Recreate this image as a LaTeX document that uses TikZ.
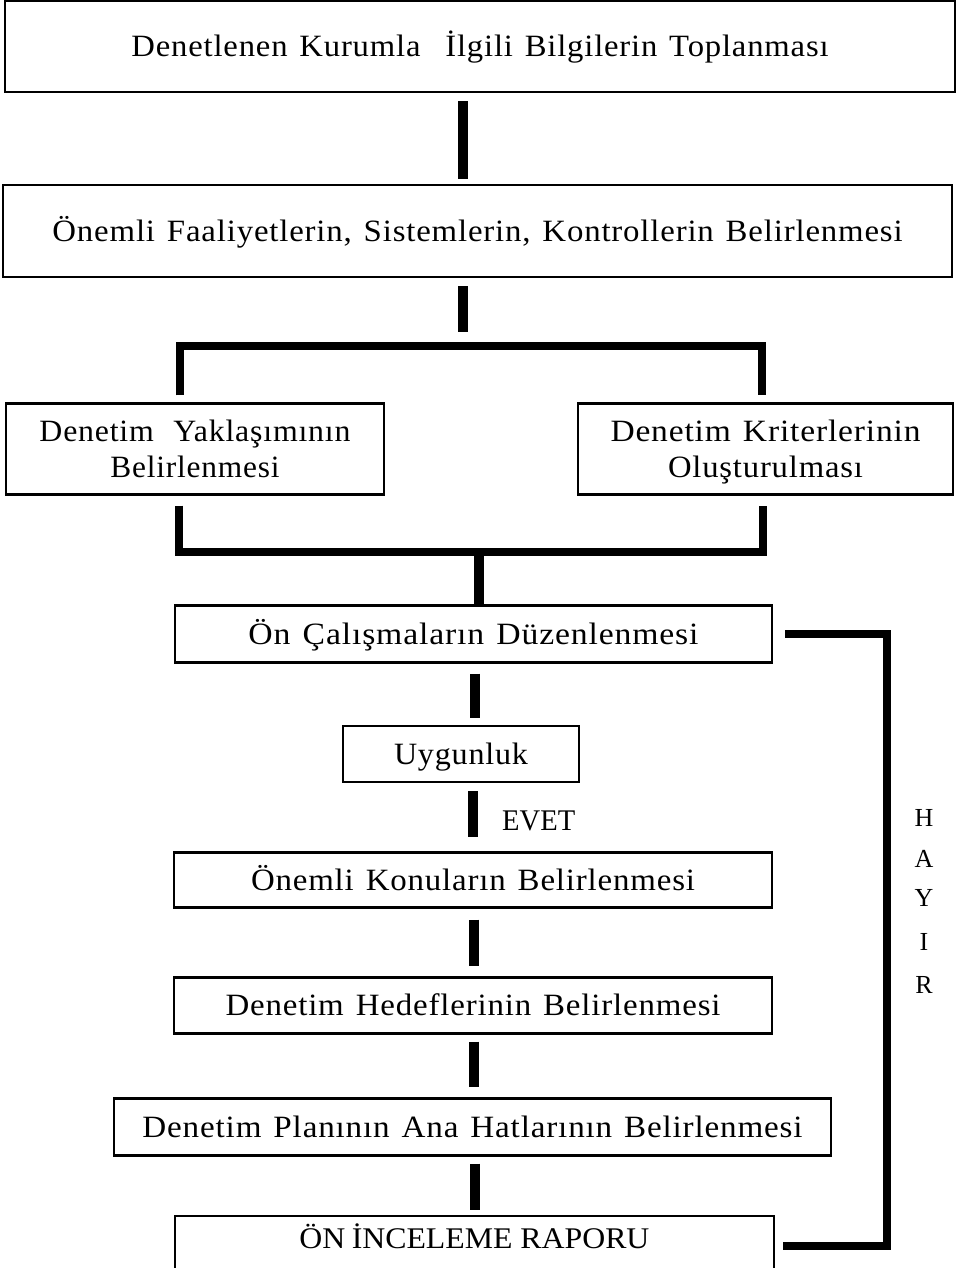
\documentclass[tikz,border=0pt]{standalone}
\usepackage{graphicx}
\usepackage{fontspec}
\setmainfont{Liberation Serif}
\newfontfamily\boxfont{Liberation Serif}[LetterSpace=2.5]
% box text: slightly spaced glyphs, wide word gaps, set to a given line width
\newcommand\wordgap{\spaceskip=0.36em plus 0.1em\relax}
\newcommand\fitline[2]{\resizebox{#1}{\height}{#2}}
\newcommand\twolines[2]{\vtop{\baselineskip=36pt\halign{\hfil##\hfil\cr#1\cr#2\cr}}}
\begin{document}
\begin{tikzpicture}[x=1pt,y=-1pt,
  box/.style={draw=black,line width=2.2pt,rectangle,inner sep=0pt,
    font=\boxfont\fontsize{31}{31}\selectfont\wordgap,text height=20.5pt,text depth=0pt},
  twobox/.style={box,text height=20.5pt,text depth=36pt},
  conn/.style={draw=black,line width=10pt,line cap=butt,line join=miter},
  bar/.style={draw=black,line width=8pt,line cap=butt,line join=miter},
  side/.style={font=\fontsize{26}{30}\selectfont,inner sep=0pt}]
\useasboundingbox (0,0) rectangle (956,1268);
\clip (0,0) rectangle (956,1268);

% process boxes
\node[box,minimum width=950pt,minimum height=91pt] (b1) at (480,46.5)
  {\fitline{697pt}{Denetlenen Kurumla\hspace{0.4em} İlgili Bilgilerin Toplanması}};
\node[box,minimum width=949pt,minimum height=92pt] (b2) at (477.5,231)
  {\fitline{850pt}{Önemli Faaliyetlerin, Sistemlerin, Kontrollerin Belirlenmesi}};
\node[twobox,minimum width=378pt,minimum height=91pt] (b3) at (195,449)
  {\twolines{\fitline{311pt}{Denetim\hspace{0.25em} Yaklaşımının}}{\fitline{169pt}{Belirlenmesi}}};
\node[twobox,minimum width=375pt,minimum height=91pt] (b4) at (765.5,449)
  {\twolines{\fitline{310pt}{Denetim Kriterlerinin}}{\fitline{195pt}{Oluşturulması}}};
\node[box,minimum width=597pt,minimum height=57pt] (b5) at (473.5,634)
  {\fitline{450pt}{Ön Çalışmaların Düzenlenmesi}};
\node[box,minimum width=236pt,minimum height=56pt] (b6) at (461,754)
  {\fitline{134pt}{Uygunluk}};
\node[box,minimum width=598pt,minimum height=55pt] (b7) at (473,880)
  {\fitline{444pt}{Önemli Konuların Belirlenmesi}};
\node[box,minimum width=598pt,minimum height=56pt] (b8) at (473,1005.5)
  {\fitline{495pt}{Denetim Hedeflerinin Belirlenmesi}};
\node[box,minimum width=717pt,minimum height=57pt] (b9) at (472.5,1127)
  {\fitline{660pt}{Denetim Planının Ana Hatlarının Belirlenmesi}};
\node[box,minimum width=599pt,inner ysep=12pt,text depth=40pt,anchor=north,
  font=\fontsize{30}{30}\selectfont] (b10) at (474.5,1215)
  {\fitline{350pt}{ÖN\hspace{-0.05em} İNCELEME RAPORU}};

% junction points of the split and merge bars
\coordinate (sl) at (180,346);
\coordinate (sr) at (762,346);
\coordinate (ml) at (179,552);
\coordinate (mr) at (763,552);
\coordinate (mm) at (479,552);
\coordinate (hx) at (887,0);
\coordinate (hy) at (0,1246);

% connectors
\draw[conn,shorten <=8pt,shorten >=5pt] ([xshift=-17pt]b1.south) -- ([xshift=-17pt]b1.south |- b2.north);
\draw[conn,shorten <=8pt,shorten >=14pt] ([xshift=-15pt]b2.south) -- ([xshift=-15pt]b2.south |- sl);
\draw[bar,shorten <=7pt,shorten >=7pt] (b3.north -| sl) -- (sl) -- (sr) -- (b4.north -| sr);
\draw[bar,shorten <=10pt,shorten >=10pt] (b3.south -| ml) -- (ml) -- (mr) -- (b4.south -| mr);
\draw[conn] (mm) -- (b5.north -| mm);
\draw[conn,shorten <=10pt,shorten >=7pt] ([xshift=1.5pt]b5.south) -- ([xshift=1.5pt]b5.south |- b6.north);
\draw[conn,shorten <=8pt,shorten >=14pt] (b6.south -| b7.north) -- (b7.north);
\draw[conn,shorten <=11pt,shorten >=10pt] ([xshift=1pt]b7.south) -- ([xshift=1pt]b8.north);
\draw[conn,shorten <=7pt,shorten >=10pt] ([xshift=1pt]b8.south) -- ([xshift=1pt]b8.south |- b9.north);
\draw[conn,shorten <=7pt,shorten >=5pt] ([xshift=2pt]b9.south) -- ([xshift=2pt]b9.south |- b10.north);
\draw[bar,shorten <=12pt,shorten >=8pt] (b5.east) -- (b5.east -| hx) -- (hx |- hy) -- (b10.east |- hy);

% branch labels
\node[font=\fontsize{30}{30}\selectfont,anchor=west,inner sep=0pt,text height=20pt,text depth=0pt]
  (evet) at (502,820) {\fitline{73pt}{EVET}};
\node[side] (h1) at (924,818) {H};
\node[side] (h2) at (924,859) {A};
\node[side] (h3) at (924,898) {Y};
\node[side] (h4) at (924,942) {I};
\node[side] (h5) at (924,985) {R};
\end{tikzpicture}
\end{document}
